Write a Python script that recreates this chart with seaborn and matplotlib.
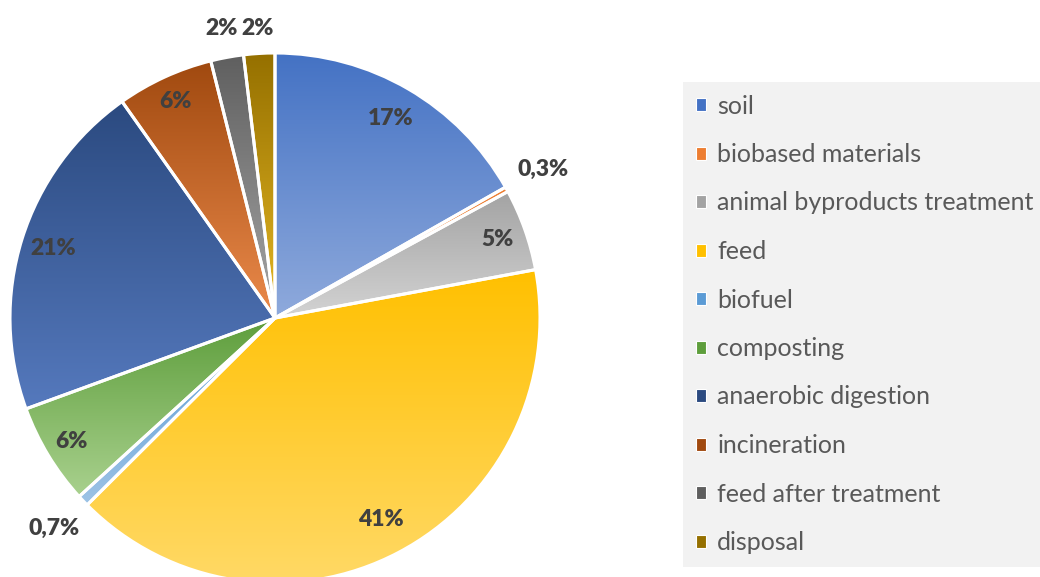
import numpy as np
import matplotlib
matplotlib.use("Agg")
import matplotlib.pyplot as plt
import seaborn as sns
from matplotlib.patches import Patch, PathPatch
from matplotlib.colors import to_rgb

categories = ["soil", "biobased materials", "animal byproducts treatment", "feed",
              "biofuel", "composting", "anaerobic digestion", "incineration",
              "feed after treatment", "disposal"]
values = [16.8, 0.3, 5.0, 40.5, 0.7, 6.2, 20.8, 5.9, 2.0, 1.9]
pct_labels = ["17%", "0,3%", "5%", "41%", "0,7%", "6%", "21%", "6%", "2%", "2%"]

top_colors = ["#4472C4", "#ED7D31", "#A3A3A3", "#FFC000", "#5B9BD5",
              "#5E9E3C", "#2B4A80", "#A0490F", "#5F5F5F", "#957000"]
bottom_colors = ["#8FAADC", "#F4B183", "#D3D3D3", "#FFD966", "#9DC3E6",
                 "#A9D18E", "#5579BD", "#EB8A4B", "#A6A6A6", "#E6B824"]
label_dist = [0.87, 1.155, 0.89, 0.86, 1.15, 0.9, 0.875, 0.9, 1.11, 1.095]

sns.set_theme(style="white")
plt.rcParams["font.family"] = ["Lato", "DejaVu Sans"]

W, H = 1040, 577
fig = plt.figure(figsize=(W / 100, H / 100), dpi=100)
ax = fig.add_axes([0, 0, 1, 1])
R = 265.0
cx, cy = 275.0, H - 318.0

wedges, _ = ax.pie(values, startangle=90, counterclock=False, radius=1.0,
                   colors=top_colors,
                   wedgeprops=dict(edgecolor="white", linewidth=2.2))
ax.set_aspect("auto")
ax.axis("off")

for i, w in enumerate(wedges):
    path = w.get_path()
    ext = path.get_extents()
    c0 = np.array(to_rgb(top_colors[i]))
    c1 = np.array(to_rgb(bottom_colors[i]))
    t = np.linspace(0, 1, 256)[:, None]
    grad = (c1 * (1 - t) + c0 * t)[:, None, :]  # origin lower: row0 = bottom
    im = ax.imshow(grad, extent=[ext.x0, ext.x1, ext.y0, ext.y1], origin="lower",
                   aspect="auto", zorder=2, interpolation="bilinear")
    im.set_clip_path(w)
    w.set_zorder(1)
    outline = PathPatch(path, fill=False, edgecolor="white", linewidth=2.2,
                        zorder=3, transform=ax.transData)
    ax.add_patch(outline)

ax.set_xlim(-cx / R, (W - cx) / R)
ax.set_ylim(-cy / R, (H - cy) / R)

for i, w in enumerate(wedges):
    mid = np.deg2rad((w.theta1 + w.theta2) / 2)
    d = label_dist[i]
    ax.text(d * np.cos(mid), d * np.sin(mid), pct_labels[i], ha="center", va="center",
            fontsize=16.5, fontweight="heavy", color="#404040", zorder=5)

handles = [Patch(facecolor=top_colors[i], edgecolor="white", linewidth=0.8)
           for i in range(len(categories))]
leg = fig.legend(handles, categories, loc="upper left",
                 bbox_to_anchor=(683 / W, 1 - 82 / H), frameon=True,
                 facecolor="#F2F2F2", edgecolor="none", fancybox=False,
                 fontsize=18, labelcolor="#595959", handlelength=0.42,
                 handleheight=0.42, handletextpad=0.45, labelspacing=1.02,
                 borderpad=0.5, borderaxespad=0)
leg.get_frame().set_alpha(1)

fig.savefig("out.png", dpi=100)
